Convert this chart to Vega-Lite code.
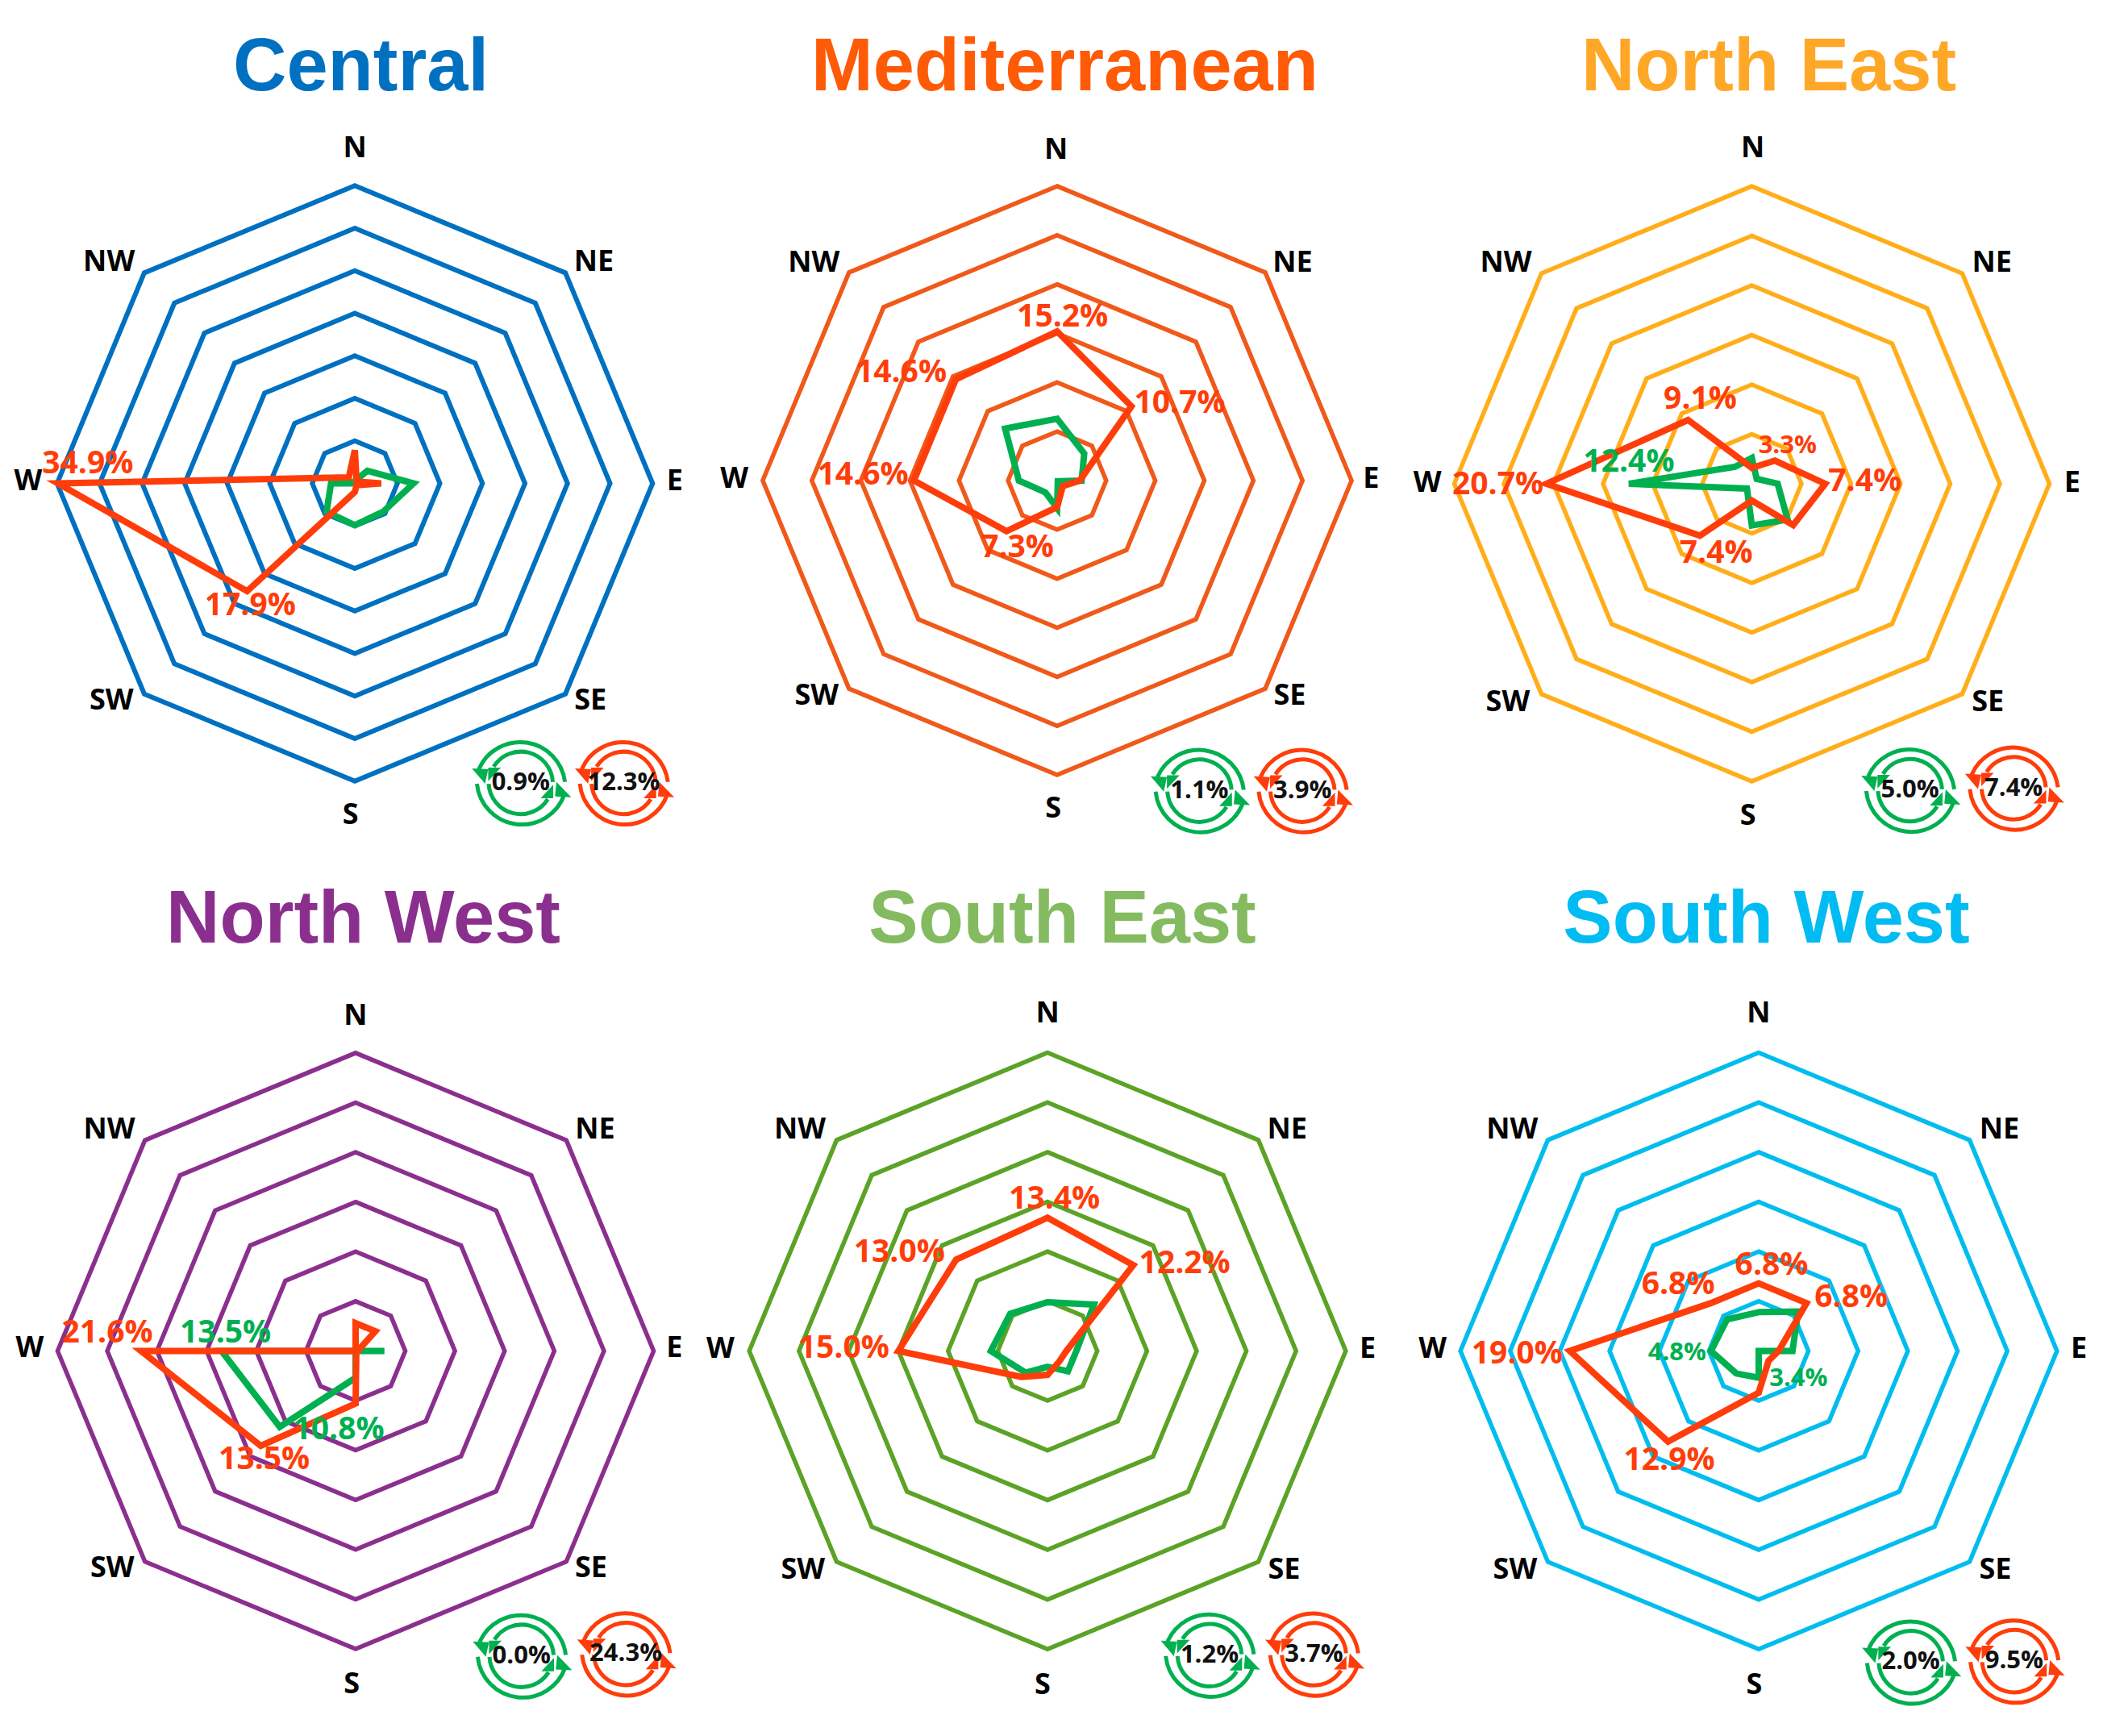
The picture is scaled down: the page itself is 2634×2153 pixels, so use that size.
{
"$schema":"https://vega.github.io/schema/vega-lite/v6.json",
"padding":{"top":38,"left":0,"right":0,"bottom":0},
"spacing":0,
"columns":3,
"background":"white",
"config":{
 "view":{"stroke":null},
 "title":{"font":"Liberation Sans","fontWeight":"bold","fontSize":92,"anchor":"middle","offset":0},
 "style":{
  "cycle":{"shape":"M.98,-.02A1,1,0,0,0,-.93,-.3M-.97,.02A1,1,0,0,0,.97,.25M.71,-.02A.71,.71,0,0,0,-.6,-.36M-.71,.02A.71,.71,0,0,0,.6,.36","filled":false,"size":12544,"strokeWidth":5,"opacity":1},
  "cycleHead":{"shape":"M-1.08,-.32L-.72,-.3L-.79,.02ZM1.12,.32L.76,.3L.79,-.02ZM-.72,-.34L-.44,-.34L-.72,-.04ZM.72,.34L.44,.34L.72,.04Z","filled":true,"size":12544,"strokeWidth":0,"opacity":1},
  "compass":{"font":"Open Sans","fontWeight":"bold","fontSize":36,"color":"#000000","align":"center","baseline":"middle"},
  "pct":{"font":"Open Sans","fontWeight":"bold","align":"center","baseline":"middle"},
  "cycleText":{"font":"Open Sans","fontWeight":"bold","fontSize":31,"color":"#111111","align":"center","baseline":"middle"},
  "radar":{"strokeWidth":8,"interpolate":"linear-closed","strokeJoin":"miter"},
  "ring":{"interpolate":"linear-closed","strokeJoin":"miter"}
 }
},
"datasets":{
 "rings":[
  {"ring":5,"seq":0,"east":0,"north":5},{"ring":5,"seq":1,"east":3.54,"north":3.54},{"ring":5,"seq":2,"east":5,"north":0},{"ring":5,"seq":3,"east":3.54,"north":-3.54},{"ring":5,"seq":4,"east":0,"north":-5},{"ring":5,"seq":5,"east":-3.54,"north":-3.54},{"ring":5,"seq":6,"east":-5,"north":0},{"ring":5,"seq":7,"east":-3.54,"north":3.54},
  {"ring":10,"seq":0,"east":0,"north":10},{"ring":10,"seq":1,"east":7.07,"north":7.07},{"ring":10,"seq":2,"east":10,"north":0},{"ring":10,"seq":3,"east":7.07,"north":-7.07},{"ring":10,"seq":4,"east":0,"north":-10},{"ring":10,"seq":5,"east":-7.07,"north":-7.07},{"ring":10,"seq":6,"east":-10,"north":0},{"ring":10,"seq":7,"east":-7.07,"north":7.07},
  {"ring":15,"seq":0,"east":0,"north":15},{"ring":15,"seq":1,"east":10.61,"north":10.61},{"ring":15,"seq":2,"east":15,"north":0},{"ring":15,"seq":3,"east":10.61,"north":-10.61},{"ring":15,"seq":4,"east":0,"north":-15},{"ring":15,"seq":5,"east":-10.61,"north":-10.61},{"ring":15,"seq":6,"east":-15,"north":0},{"ring":15,"seq":7,"east":-10.61,"north":10.61},
  {"ring":20,"seq":0,"east":0,"north":20},{"ring":20,"seq":1,"east":14.14,"north":14.14},{"ring":20,"seq":2,"east":20,"north":0},{"ring":20,"seq":3,"east":14.14,"north":-14.14},{"ring":20,"seq":4,"east":0,"north":-20},{"ring":20,"seq":5,"east":-14.14,"north":-14.14},{"ring":20,"seq":6,"east":-20,"north":0},{"ring":20,"seq":7,"east":-14.14,"north":14.14},
  {"ring":25,"seq":0,"east":0,"north":25},{"ring":25,"seq":1,"east":17.68,"north":17.68},{"ring":25,"seq":2,"east":25,"north":0},{"ring":25,"seq":3,"east":17.68,"north":-17.68},{"ring":25,"seq":4,"east":0,"north":-25},{"ring":25,"seq":5,"east":-17.68,"north":-17.68},{"ring":25,"seq":6,"east":-25,"north":0},{"ring":25,"seq":7,"east":-17.68,"north":17.68},
  {"ring":30,"seq":0,"east":0,"north":30},{"ring":30,"seq":1,"east":21.21,"north":21.21},{"ring":30,"seq":2,"east":30,"north":0},{"ring":30,"seq":3,"east":21.21,"north":-21.21},{"ring":30,"seq":4,"east":0,"north":-30},{"ring":30,"seq":5,"east":-21.21,"north":-21.21},{"ring":30,"seq":6,"east":-30,"north":0},{"ring":30,"seq":7,"east":-21.21,"north":21.21},
  {"ring":35,"seq":0,"east":0,"north":35},{"ring":35,"seq":1,"east":24.75,"north":24.75},{"ring":35,"seq":2,"east":35,"north":0},{"ring":35,"seq":3,"east":24.75,"north":-24.75},{"ring":35,"seq":4,"east":0,"north":-35},{"ring":35,"seq":5,"east":-24.75,"north":-24.75},{"ring":35,"seq":6,"east":-35,"north":0},{"ring":35,"seq":7,"east":-24.75,"north":24.75}
 ],
 "series":[
  {"panel":"Central","series":"green","seq":0,"dir":"N","value":0.3,"east":0,"north":0.3},{"panel":"Central","series":"green","seq":1,"dir":"NE","value":2.1,"east":1.48,"north":1.48},{"panel":"Central","series":"green","seq":2,"dir":"E","value":6.9,"east":6.9,"north":0},{"panel":"Central","series":"green","seq":3,"dir":"SE","value":4.7,"east":3.32,"north":-3.32},{"panel":"Central","series":"green","seq":4,"dir":"S","value":4.9,"east":0,"north":-4.9},{"panel":"Central","series":"green","seq":5,"dir":"SW","value":4.7,"east":-3.32,"north":-3.32},{"panel":"Central","series":"green","seq":6,"dir":"W","value":2.8,"east":-2.8,"north":0},{"panel":"Central","series":"green","seq":7,"dir":"NW","value":0,"east":0,"north":0},
  {"panel":"Central","series":"red","seq":0,"dir":"N","value":3.9,"east":0,"north":3.9},{"panel":"Central","series":"red","seq":1,"dir":"NE","value":0.3,"east":0.21,"north":0.21},{"panel":"Central","series":"red","seq":2,"dir":"E","value":3.1,"east":3.1,"north":0},{"panel":"Central","series":"red","seq":3,"dir":"SE","value":0.3,"east":0.21,"north":-0.21},{"panel":"Central","series":"red","seq":4,"dir":"S","value":1.0,"east":0,"north":-1.0},{"panel":"Central","series":"red","seq":5,"dir":"SW","value":17.9,"east":-12.66,"north":-12.66},{"panel":"Central","series":"red","seq":6,"dir":"W","value":34.9,"east":-34.9,"north":0},{"panel":"Central","series":"red","seq":7,"dir":"NW","value":1.0,"east":-0.71,"north":0.71},
  {"panel":"Mediterranean","series":"green","seq":0,"dir":"N","value":6.3,"east":0,"north":6.3},{"panel":"Mediterranean","series":"green","seq":1,"dir":"NE","value":3.9,"east":2.76,"north":2.76},{"panel":"Mediterranean","series":"green","seq":2,"dir":"E","value":2.5,"east":2.5,"north":0},{"panel":"Mediterranean","series":"green","seq":3,"dir":"SE","value":0.1,"east":0.07,"north":-0.07},{"panel":"Mediterranean","series":"green","seq":4,"dir":"S","value":2.8,"east":0,"north":-2.8},{"panel":"Mediterranean","series":"green","seq":5,"dir":"SW","value":1.7,"east":-1.2,"north":-1.2},{"panel":"Mediterranean","series":"green","seq":6,"dir":"W","value":3.9,"east":-3.9,"north":0},{"panel":"Mediterranean","series":"green","seq":7,"dir":"NW","value":7.5,"east":-5.3,"north":5.3},
  {"panel":"Mediterranean","series":"red","seq":0,"dir":"N","value":15.2,"east":0,"north":15.2},{"panel":"Mediterranean","series":"red","seq":1,"dir":"NE","value":10.7,"east":7.57,"north":7.57},{"panel":"Mediterranean","series":"red","seq":2,"dir":"E","value":2.3,"east":2.3,"north":0},{"panel":"Mediterranean","series":"red","seq":3,"dir":"SE","value":0.8,"east":0.57,"north":-0.57},{"panel":"Mediterranean","series":"red","seq":4,"dir":"S","value":2.7,"east":0,"north":-2.7},{"panel":"Mediterranean","series":"red","seq":5,"dir":"SW","value":7.3,"east":-5.16,"north":-5.16},{"panel":"Mediterranean","series":"red","seq":6,"dir":"W","value":14.6,"east":-14.6,"north":0},{"panel":"Mediterranean","series":"red","seq":7,"dir":"NW","value":14.6,"east":-10.32,"north":10.32},
  {"panel":"North East","series":"green","seq":0,"dir":"N","value":2.6,"east":0,"north":2.6},{"panel":"North East","series":"green","seq":1,"dir":"NE","value":0.7,"east":0.49,"north":0.49},{"panel":"North East","series":"green","seq":2,"dir":"E","value":2.6,"east":2.6,"north":0},{"panel":"North East","series":"green","seq":3,"dir":"SE","value":5.1,"east":3.61,"north":-3.61},{"panel":"North East","series":"green","seq":4,"dir":"S","value":4.2,"east":0,"north":-4.2},{"panel":"North East","series":"green","seq":5,"dir":"SW","value":0.7,"east":-0.49,"north":-0.49},{"panel":"North East","series":"green","seq":6,"dir":"W","value":12.4,"east":-12.4,"north":0},{"panel":"North East","series":"green","seq":7,"dir":"NW","value":2.4,"east":-1.7,"north":1.7},
  {"panel":"North East","series":"red","seq":0,"dir":"N","value":1.6,"east":0,"north":1.6},{"panel":"North East","series":"red","seq":1,"dir":"NE","value":3.3,"east":2.33,"north":2.33},{"panel":"North East","series":"red","seq":2,"dir":"E","value":7.4,"east":7.4,"north":0},{"panel":"North East","series":"red","seq":3,"dir":"SE","value":5.9,"east":4.17,"north":-4.17},{"panel":"North East","series":"red","seq":4,"dir":"S","value":1.7,"east":0,"north":-1.7},{"panel":"North East","series":"red","seq":5,"dir":"SW","value":7.4,"east":-5.23,"north":-5.23},{"panel":"North East","series":"red","seq":6,"dir":"W","value":20.7,"east":-20.7,"north":0},{"panel":"North East","series":"red","seq":7,"dir":"NW","value":9.1,"east":-6.43,"north":6.43},
  {"panel":"North West","series":"green","seq":0,"dir":"N","value":0,"east":0,"north":0},{"panel":"North West","series":"green","seq":1,"dir":"NE","value":0,"east":0,"north":0},{"panel":"North West","series":"green","seq":2,"dir":"E","value":2.9,"east":2.9,"north":0},{"panel":"North West","series":"green","seq":3,"dir":"SE","value":0,"east":0,"north":0},{"panel":"North West","series":"green","seq":4,"dir":"S","value":2.7,"east":0,"north":-2.7},{"panel":"North West","series":"green","seq":5,"dir":"SW","value":10.8,"east":-7.64,"north":-7.64},{"panel":"North West","series":"green","seq":6,"dir":"W","value":13.5,"east":-13.5,"north":0},{"panel":"North West","series":"green","seq":7,"dir":"NW","value":0,"east":0,"north":0},
  {"panel":"North West","series":"red","seq":0,"dir":"N","value":2.8,"east":0,"north":2.8},{"panel":"North West","series":"red","seq":1,"dir":"NE","value":2.8,"east":1.98,"north":1.98},{"panel":"North West","series":"red","seq":2,"dir":"E","value":0.2,"east":0.2,"north":0},{"panel":"North West","series":"red","seq":3,"dir":"SE","value":0.1,"east":0.07,"north":-0.07},{"panel":"North West","series":"red","seq":4,"dir":"S","value":5.3,"east":0,"north":-5.3},{"panel":"North West","series":"red","seq":5,"dir":"SW","value":13.5,"east":-9.55,"north":-9.55},{"panel":"North West","series":"red","seq":6,"dir":"W","value":21.6,"east":-21.6,"north":0},{"panel":"North West","series":"red","seq":7,"dir":"NW","value":0,"east":0,"north":0},
  {"panel":"South East","series":"green","seq":0,"dir":"N","value":4.9,"east":0,"north":4.9},{"panel":"South East","series":"green","seq":1,"dir":"NE","value":6.6,"east":4.67,"north":4.67},{"panel":"South East","series":"green","seq":2,"dir":"E","value":2.9,"east":2.9,"north":0},{"panel":"South East","series":"green","seq":3,"dir":"SE","value":2.9,"east":2.05,"north":-2.05},{"panel":"South East","series":"green","seq":4,"dir":"S","value":1.6,"east":0,"north":-1.6},{"panel":"South East","series":"green","seq":5,"dir":"SW","value":3.1,"east":-2.19,"north":-2.19},{"panel":"South East","series":"green","seq":6,"dir":"W","value":5.7,"east":-5.7,"north":0},{"panel":"South East","series":"green","seq":7,"dir":"NW","value":5.3,"east":-3.75,"north":3.75},
  {"panel":"South East","series":"red","seq":0,"dir":"N","value":13.4,"east":0,"north":13.4},{"panel":"South East","series":"red","seq":1,"dir":"NE","value":12.2,"east":8.63,"north":8.63},{"panel":"South East","series":"red","seq":2,"dir":"E","value":1.9,"east":1.9,"north":0},{"panel":"South East","series":"red","seq":3,"dir":"SE","value":1.6,"east":1.13,"north":-1.13},{"panel":"South East","series":"red","seq":4,"dir":"S","value":2.4,"east":0,"north":-2.4},{"panel":"South East","series":"red","seq":5,"dir":"SW","value":3.7,"east":-2.62,"north":-2.62},{"panel":"South East","series":"red","seq":6,"dir":"W","value":15.0,"east":-15.0,"north":0},{"panel":"South East","series":"red","seq":7,"dir":"NW","value":13.0,"east":-9.19,"north":9.19},
  {"panel":"South West","series":"green","seq":0,"dir":"N","value":3.9,"east":0,"north":3.9},{"panel":"South West","series":"green","seq":1,"dir":"NE","value":5.6,"east":3.96,"north":3.96},{"panel":"South West","series":"green","seq":2,"dir":"E","value":3.4,"east":3.4,"north":0},{"panel":"South West","series":"green","seq":3,"dir":"SE","value":0,"east":0,"north":0},{"panel":"South West","series":"green","seq":4,"dir":"S","value":2.7,"east":0,"north":-2.7},{"panel":"South West","series":"green","seq":5,"dir":"SW","value":3.2,"east":-2.26,"north":-2.26},{"panel":"South West","series":"green","seq":6,"dir":"W","value":4.8,"east":-4.8,"north":0},{"panel":"South West","series":"green","seq":7,"dir":"NW","value":4.5,"east":-3.18,"north":3.18},
  {"panel":"South West","series":"red","seq":0,"dir":"N","value":6.8,"east":0,"north":6.8},{"panel":"South West","series":"red","seq":1,"dir":"NE","value":6.8,"east":4.81,"north":4.81},{"panel":"South West","series":"red","seq":2,"dir":"E","value":2.0,"east":2.0,"north":0},{"panel":"South West","series":"red","seq":3,"dir":"SE","value":1.4,"east":0.99,"north":-0.99},{"panel":"South West","series":"red","seq":4,"dir":"S","value":4.2,"east":0,"north":-4.2},{"panel":"South West","series":"red","seq":5,"dir":"SW","value":12.9,"east":-9.12,"north":-9.12},{"panel":"South West","series":"red","seq":6,"dir":"W","value":19.0,"east":-19.0,"north":0},{"panel":"South West","series":"red","seq":7,"dir":"NW","value":6.8,"east":-4.81,"north":4.81}
 ],
 "compass":[
  {"panel":"Central","label":"N","east":0,"north":39.4},{"panel":"Central","label":"NE","east":28.1,"north":26.0},{"panel":"Central","label":"E","east":37.6,"north":0.2},{"panel":"Central","label":"SE","east":27.7,"north":-25.5},{"panel":"Central","label":"S","east":-0.5,"north":-39.0},{"panel":"Central","label":"SW","east":-28.6,"north":-25.5},{"panel":"Central","label":"W","east":-38.4,"north":0.2},{"panel":"Central","label":"NW","east":-28.9,"north":26.0},
  {"panel":"Mediterranean","label":"N","east":-0.1,"north":33.7},{"panel":"Mediterranean","label":"NE","east":24.0,"north":22.2},{"panel":"Mediterranean","label":"E","east":32.0,"north":0.2},{"panel":"Mediterranean","label":"SE","east":23.7,"north":-21.9},{"panel":"Mediterranean","label":"S","east":-0.4,"north":-33.4},{"panel":"Mediterranean","label":"SW","east":-24.5,"north":-21.9},{"panel":"Mediterranean","label":"W","east":-32.9,"north":0.2},{"panel":"Mediterranean","label":"NW","east":-24.8,"north":22.2},
  {"panel":"North East","label":"N","east":0.1,"north":33.8},{"panel":"North East","label":"NE","east":24.2,"north":22.3},{"panel":"North East","label":"E","east":32.3,"north":0.1},{"panel":"North East","label":"SE","east":23.8,"north":-22.0},{"panel":"North East","label":"S","east":-0.4,"north":-33.5},{"panel":"North East","label":"SW","east":-24.6,"north":-22.0},{"panel":"North East","label":"W","east":-32.7,"north":0.1},{"panel":"North East","label":"NW","east":-24.8,"north":22.3},
  {"panel":"North West","label":"N","east":0,"north":33.7},{"panel":"North West","label":"NE","east":24.1,"north":22.3},{"panel":"North West","label":"E","east":32.1,"north":0.3},{"panel":"North West","label":"SE","east":23.7,"north":-21.9},{"panel":"North West","label":"S","east":-0.4,"north":-33.6},{"panel":"North West","label":"SW","east":-24.5,"north":-21.9},{"panel":"North West","label":"W","east":-32.8,"north":0.3},{"panel":"North West","label":"NW","east":-24.8,"north":22.3},
  {"panel":"South East","label":"N","east":0,"north":33.9},{"panel":"South East","label":"NE","east":24.1,"north":22.3},{"panel":"South East","label":"E","east":32.2,"north":0.2},{"panel":"South East","label":"SE","east":23.8,"north":-22.0},{"panel":"South East","label":"S","east":-0.5,"north":-33.6},{"panel":"South East","label":"SW","east":-24.6,"north":-22.0},{"panel":"South East","label":"W","east":-32.9,"north":0.2},{"panel":"South East","label":"NW","east":-24.9,"north":22.3},
  {"panel":"South West","label":"N","east":0,"north":33.9},{"panel":"South West","label":"NE","east":24.2,"north":22.3},{"panel":"South West","label":"E","east":32.2,"north":0.2},{"panel":"South West","label":"SE","east":23.8,"north":-22.0},{"panel":"South West","label":"S","east":-0.45,"north":-33.6},{"panel":"South West","label":"SW","east":-24.5,"north":-22.0},{"panel":"South West","label":"W","east":-32.8,"north":0.2},{"panel":"South West","label":"NW","east":-24.8,"north":22.3}
 ],
 "labels":[
  {"panel":"Central","series":"red","label":"34.9%","east":-31.4,"north":2.3},{"panel":"Central","series":"red","label":"17.9%","east":-12.3,"north":-14.4},
  {"panel":"Mediterranean","series":"red","label":"15.2%","east":0.55,"north":16.7},{"panel":"Mediterranean","series":"red","label":"14.6%","east":-15.9,"north":11.05},{"panel":"Mediterranean","series":"red","label":"10.7%","east":12.5,"north":7.9},{"panel":"Mediterranean","series":"red","label":"14.6%","east":-19.8,"north":0.6},{"panel":"Mediterranean","series":"red","label":"7.3%","east":-4.06,"north":-6.8},
  {"panel":"North East","series":"red","label":"9.1%","east":-5.2,"north":8.5},{"panel":"North East","series":"red","label":"3.3%","east":3.6,"north":3.85},{"panel":"North East","series":"red","label":"7.4%","east":11.4,"north":0.2},{"panel":"North East","series":"red","label":"20.7%","east":-25.6,"north":-0.05},{"panel":"North East","series":"red","label":"7.4%","east":-3.6,"north":-7.0},{"panel":"North East","series":"green","label":"12.4%","east":-12.4,"north":2.2},
  {"panel":"North West","series":"red","label":"21.6%","east":-25,"north":1.8},{"panel":"North West","series":"green","label":"13.5%","east":-13.1,"north":1.8},{"panel":"North West","series":"green","label":"10.8%","east":-1.7,"north":-7.9},{"panel":"North West","series":"red","label":"13.5%","east":-9.2,"north":-10.9},
  {"panel":"South East","series":"red","label":"13.4%","east":0.7,"north":15.3},{"panel":"South East","series":"red","label":"13.0%","east":-14.9,"north":9.9},{"panel":"South East","series":"red","label":"12.2%","east":13.8,"north":8.8},{"panel":"South East","series":"red","label":"15.0%","east":-20.5,"north":0.3},
  {"panel":"South West","series":"red","label":"6.8%","east":1.3,"north":8.6},{"panel":"South West","series":"red","label":"6.8%","east":-8.1,"north":6.7},{"panel":"South West","series":"red","label":"6.8%","east":9.3,"north":5.4},{"panel":"South West","series":"red","label":"19.0%","east":-24.3,"north":-0.3},{"panel":"South West","series":"red","label":"12.9%","east":-9,"north":-11},{"panel":"South West","series":"green","label":"4.8%","east":-8.2,"north":-0.2},{"panel":"South West","series":"green","label":"3.4%","east":4,"north":-2.8}
 ],
 "cycles":[
  {"panel":"Central","series":"green","label":"0.9%","east":19.5,"north":-35.2},{"panel":"Central","series":"red","label":"12.3%","east":31.6,"north":-35.2},
  {"panel":"Mediterranean","series":"green","label":"1.1%","east":14.5,"north":-31.6},{"panel":"Mediterranean","series":"red","label":"3.9%","east":25.0,"north":-31.6},
  {"panel":"North East","series":"green","label":"5.0%","east":15.95,"north":-30.9},{"panel":"North East","series":"red","label":"7.4%","east":26.4,"north":-30.7},
  {"panel":"North West","series":"green","label":"0.0%","east":16.7,"north":-30.7},{"panel":"North West","series":"red","label":"24.3%","east":27.2,"north":-30.5},
  {"panel":"South East","series":"green","label":"1.2%","east":16.3,"north":-30.6},{"panel":"South East","series":"red","label":"3.7%","east":26.8,"north":-30.5},
  {"panel":"South West","series":"green","label":"2.0%","east":15.3,"north":-31.3},{"panel":"South West","series":"red","label":"9.5%","east":25.7,"north":-31.2}
 ]
},
"concat":[
 {"width":875,"height":960,"title":{"text":"Central","color":"#0070C0","dx":10},
  "encoding":{"x":{"field":"east","type":"quantitative","scale":{"domain":[-41.71,41.23]},"axis":null},"y":{"field":"north","type":"quantitative","scale":{"domain":[-46.96,44.03]},"axis":null}},
  "layer":[
   {"data":{"name":"rings"},"mark":{"type":"line","style":"ring","strokeWidth":6},"encoding":{"detail":{"field":"ring"},"order":{"field":"seq"},"color":{"value":"#0070C0"}}},
   {"data":{"name":"series"},"transform":[{"filter":{"field":"panel","equal":"Central"}}],"mark":{"type":"line","style":"radar"},"encoding":{"detail":{"field":"series"},"order":{"field":"seq"},"color":{"field":"series","scale":{"domain":["green","red"],"range":["#00B050","#FF3D0A"]},"legend":null}}},
   {"data":{"name":"compass"},"transform":[{"filter":{"field":"panel","equal":"Central"}}],"mark":{"type":"text","style":"compass"},"encoding":{"text":{"field":"label"}}},
   {"data":{"name":"labels"},"transform":[{"filter":{"field":"panel","equal":"Central"}}],"mark":{"type":"text","style":"pct"},"encoding":{"text":{"field":"label"},"size":{"condition":{"test":"indexof(['3.3%','4.8%','3.4%'],datum.label)>=0","value":31},"value":39},"color":{"field":"series","scale":{"domain":["green","red"],"range":["#00B050","#FF3D1A"]},"legend":null}}},
   {"data":{"name":"cycles"},"transform":[{"filter":{"field":"panel","equal":"Central"}}],"mark":{"type":"point","style":"cycle"},"encoding":{"color":{"field":"series","scale":{"domain":["green","red"],"range":["#00B050","#FF3D0A"]},"legend":null}}},
   {"data":{"name":"cycles"},"transform":[{"filter":{"field":"panel","equal":"Central"}}],"mark":{"type":"point","style":"cycleHead"},"encoding":{"color":{"field":"series","scale":{"domain":["green","red"],"range":["#00B050","#FF3D0A"]},"legend":null}}},
   {"data":{"name":"cycles"},"transform":[{"filter":{"field":"panel","equal":"Central"}}],"mark":{"type":"text","style":"cycleText"},"encoding":{"text":{"field":"label"}}}
  ]},
 {"width":875,"height":960,"title":{"text":"Mediterranean","color":"#FF5A06","dx":6},
  "encoding":{"x":{"field":"east","type":"quantitative","scale":{"domain":[-35.66,36.24]},"axis":null},"y":{"field":"north","type":"quantitative","scale":{"domain":[-41.0,37.88]},"axis":null}},
  "layer":[
   {"data":{"name":"rings"},"transform":[{"filter":"datum.ring<=30"}],"mark":{"type":"line","style":"ring","strokeWidth":5.5},"encoding":{"detail":{"field":"ring"},"order":{"field":"seq"},"color":{"value":"#F0591A"}}},
   {"data":{"name":"series"},"transform":[{"filter":{"field":"panel","equal":"Mediterranean"}}],"mark":{"type":"line","style":"radar"},"encoding":{"detail":{"field":"series"},"order":{"field":"seq"},"color":{"field":"series","scale":{"domain":["green","red"],"range":["#00B050","#FF3D0A"]},"legend":null}}},
   {"data":{"name":"compass"},"transform":[{"filter":{"field":"panel","equal":"Mediterranean"}}],"mark":{"type":"text","style":"compass"},"encoding":{"text":{"field":"label"}}},
   {"data":{"name":"labels"},"transform":[{"filter":{"field":"panel","equal":"Mediterranean"}}],"mark":{"type":"text","style":"pct"},"encoding":{"text":{"field":"label"},"size":{"condition":{"test":"indexof(['3.3%','4.8%','3.4%'],datum.label)>=0","value":31},"value":39},"color":{"field":"series","scale":{"domain":["green","red"],"range":["#00B050","#FF3D1A"]},"legend":null}}},
   {"data":{"name":"cycles"},"transform":[{"filter":{"field":"panel","equal":"Mediterranean"}}],"mark":{"type":"point","style":"cycle"},"encoding":{"color":{"field":"series","scale":{"domain":["green","red"],"range":["#00B050","#FF3D0A"]},"legend":null}}},
   {"data":{"name":"cycles"},"transform":[{"filter":{"field":"panel","equal":"Mediterranean"}}],"mark":{"type":"point","style":"cycleHead"},"encoding":{"color":{"field":"series","scale":{"domain":["green","red"],"range":["#00B050","#FF3D0A"]},"legend":null}}},
   {"data":{"name":"cycles"},"transform":[{"filter":{"field":"panel","equal":"Mediterranean"}}],"mark":{"type":"text","style":"cycleText"},"encoding":{"text":{"field":"label"}}}
  ]},
 {"width":875,"height":960,"title":{"text":"North East","color":"#FFA726","dx":0},
  "encoding":{"x":{"field":"east","type":"quantitative","scale":{"domain":[-33.86,37.28]},"axis":null},"y":{"field":"north","type":"quantitative","scale":{"domain":[-40.25,37.8]},"axis":null}},
  "layer":[
   {"data":{"name":"rings"},"transform":[{"filter":"datum.ring<=30"}],"mark":{"type":"line","style":"ring","strokeWidth":5.5},"encoding":{"detail":{"field":"ring"},"order":{"field":"seq"},"color":{"value":"#FFAE1A"}}},
   {"data":{"name":"series"},"transform":[{"filter":{"field":"panel","equal":"North East"}}],"mark":{"type":"line","style":"radar"},"encoding":{"detail":{"field":"series"},"order":{"field":"seq"},"color":{"field":"series","scale":{"domain":["green","red"],"range":["#00B050","#FF3D0A"]},"legend":null}}},
   {"data":{"name":"compass"},"transform":[{"filter":{"field":"panel","equal":"North East"}}],"mark":{"type":"text","style":"compass"},"encoding":{"text":{"field":"label"}}},
   {"data":{"name":"labels"},"transform":[{"filter":{"field":"panel","equal":"North East"}}],"mark":{"type":"text","style":"pct"},"encoding":{"text":{"field":"label"},"size":{"condition":{"test":"indexof(['3.3%','4.8%','3.4%'],datum.label)>=0","value":31},"value":39},"color":{"field":"series","scale":{"domain":["green","red"],"range":["#00B050","#FF3D1A"]},"legend":null}}},
   {"data":{"name":"cycles"},"transform":[{"filter":{"field":"panel","equal":"North East"}}],"mark":{"type":"point","style":"cycle"},"encoding":{"color":{"field":"series","scale":{"domain":["green","red"],"range":["#00B050","#FF3D0A"]},"legend":null}}},
   {"data":{"name":"cycles"},"transform":[{"filter":{"field":"panel","equal":"North East"}}],"mark":{"type":"point","style":"cycleHead"},"encoding":{"color":{"field":"series","scale":{"domain":["green","red"],"range":["#00B050","#FF3D0A"]},"legend":null}}},
   {"data":{"name":"cycles"},"transform":[{"filter":{"field":"panel","equal":"North East"}}],"mark":{"type":"text","style":"cycleText"},"encoding":{"text":{"field":"label"}}}
  ]},
 {"width":875,"height":925,"title":{"text":"North West","color":"#8B2F8F","dx":13},
  "encoding":{"x":{"field":"east","type":"quantitative","scale":{"domain":[-35.8,35.23]},"axis":null},"y":{"field":"north","type":"quantitative","scale":{"domain":[-35.84,39.24]},"axis":null}},
  "layer":[
   {"data":{"name":"rings"},"transform":[{"filter":"datum.ring<=30"}],"mark":{"type":"line","style":"ring","strokeWidth":5.5},"encoding":{"detail":{"field":"ring"},"order":{"field":"seq"},"color":{"value":"#8B2F8F"}}},
   {"data":{"name":"series"},"transform":[{"filter":{"field":"panel","equal":"North West"}}],"mark":{"type":"line","style":"radar"},"encoding":{"detail":{"field":"series"},"order":{"field":"seq"},"color":{"field":"series","scale":{"domain":["green","red"],"range":["#00B050","#FF3D0A"]},"legend":null}}},
   {"data":{"name":"compass"},"transform":[{"filter":{"field":"panel","equal":"North West"}}],"mark":{"type":"text","style":"compass"},"encoding":{"text":{"field":"label"}}},
   {"data":{"name":"labels"},"transform":[{"filter":{"field":"panel","equal":"North West"}}],"mark":{"type":"text","style":"pct"},"encoding":{"text":{"field":"label"},"size":{"condition":{"test":"indexof(['3.3%','4.8%','3.4%'],datum.label)>=0","value":31},"value":39},"color":{"field":"series","scale":{"domain":["green","red"],"range":["#00B050","#FF3D1A"]},"legend":null}}},
   {"data":{"name":"cycles"},"transform":[{"filter":{"field":"panel","equal":"North West"}}],"mark":{"type":"point","style":"cycle"},"encoding":{"color":{"field":"series","scale":{"domain":["green","red"],"range":["#00B050","#FF3D0A"]},"legend":null}}},
   {"data":{"name":"cycles"},"transform":[{"filter":{"field":"panel","equal":"North West"}}],"mark":{"type":"point","style":"cycleHead"},"encoding":{"color":{"field":"series","scale":{"domain":["green","red"],"range":["#00B050","#FF3D0A"]},"legend":null}}},
   {"data":{"name":"cycles"},"transform":[{"filter":{"field":"panel","equal":"North West"}}],"mark":{"type":"text","style":"cycleText"},"encoding":{"text":{"field":"label"}}}
  ]},
 {"width":875,"height":925,"title":{"text":"South East","color":"#84BB60","dx":3},
  "encoding":{"x":{"field":"east","type":"quantitative","scale":{"domain":[-34.23,36.74]},"axis":null},"y":{"field":"north","type":"quantitative","scale":{"domain":[-35.81,39.21]},"axis":null}},
  "layer":[
   {"data":{"name":"rings"},"transform":[{"filter":"datum.ring<=30"}],"mark":{"type":"line","style":"ring","strokeWidth":5.5},"encoding":{"detail":{"field":"ring"},"order":{"field":"seq"},"color":{"value":"#5BA326"}}},
   {"data":{"name":"series"},"transform":[{"filter":{"field":"panel","equal":"South East"}}],"mark":{"type":"line","style":"radar"},"encoding":{"detail":{"field":"series"},"order":{"field":"seq"},"color":{"field":"series","scale":{"domain":["green","red"],"range":["#00B050","#FF3D0A"]},"legend":null}}},
   {"data":{"name":"compass"},"transform":[{"filter":{"field":"panel","equal":"South East"}}],"mark":{"type":"text","style":"compass"},"encoding":{"text":{"field":"label"}}},
   {"data":{"name":"labels"},"transform":[{"filter":{"field":"panel","equal":"South East"}}],"mark":{"type":"text","style":"pct"},"encoding":{"text":{"field":"label"},"size":{"condition":{"test":"indexof(['3.3%','4.8%','3.4%'],datum.label)>=0","value":31},"value":39},"color":{"field":"series","scale":{"domain":["green","red"],"range":["#00B050","#FF3D1A"]},"legend":null}}},
   {"data":{"name":"cycles"},"transform":[{"filter":{"field":"panel","equal":"South East"}}],"mark":{"type":"point","style":"cycle"},"encoding":{"color":{"field":"series","scale":{"domain":["green","red"],"range":["#00B050","#FF3D0A"]},"legend":null}}},
   {"data":{"name":"cycles"},"transform":[{"filter":{"field":"panel","equal":"South East"}}],"mark":{"type":"point","style":"cycleHead"},"encoding":{"color":{"field":"series","scale":{"domain":["green","red"],"range":["#00B050","#FF3D0A"]},"legend":null}}},
   {"data":{"name":"cycles"},"transform":[{"filter":{"field":"panel","equal":"South East"}}],"mark":{"type":"text","style":"cycleText"},"encoding":{"text":{"field":"label"}}}
  ]},
 {"width":875,"height":925,"title":{"text":"South West","color":"#00BCF2","dx":-3},
  "encoding":{"x":{"field":"east","type":"quantitative","scale":{"domain":[-34.47,36.5]},"axis":null},"y":{"field":"north","type":"quantitative","scale":{"domain":[-35.81,39.21]},"axis":null}},
  "layer":[
   {"data":{"name":"rings"},"transform":[{"filter":"datum.ring<=30"}],"mark":{"type":"line","style":"ring","strokeWidth":5.5},"encoding":{"detail":{"field":"ring"},"order":{"field":"seq"},"color":{"value":"#00BDEE"}}},
   {"data":{"name":"series"},"transform":[{"filter":{"field":"panel","equal":"South West"}}],"mark":{"type":"line","style":"radar"},"encoding":{"detail":{"field":"series"},"order":{"field":"seq"},"color":{"field":"series","scale":{"domain":["green","red"],"range":["#00B050","#FF3D0A"]},"legend":null}}},
   {"data":{"name":"compass"},"transform":[{"filter":{"field":"panel","equal":"South West"}}],"mark":{"type":"text","style":"compass"},"encoding":{"text":{"field":"label"}}},
   {"data":{"name":"labels"},"transform":[{"filter":{"field":"panel","equal":"South West"}}],"mark":{"type":"text","style":"pct"},"encoding":{"text":{"field":"label"},"size":{"condition":{"test":"indexof(['3.3%','4.8%','3.4%'],datum.label)>=0","value":31},"value":39},"color":{"field":"series","scale":{"domain":["green","red"],"range":["#00B050","#FF3D1A"]},"legend":null}}},
   {"data":{"name":"cycles"},"transform":[{"filter":{"field":"panel","equal":"South West"}}],"mark":{"type":"point","style":"cycle"},"encoding":{"color":{"field":"series","scale":{"domain":["green","red"],"range":["#00B050","#FF3D0A"]},"legend":null}}},
   {"data":{"name":"cycles"},"transform":[{"filter":{"field":"panel","equal":"South West"}}],"mark":{"type":"point","style":"cycleHead"},"encoding":{"color":{"field":"series","scale":{"domain":["green","red"],"range":["#00B050","#FF3D0A"]},"legend":null}}},
   {"data":{"name":"cycles"},"transform":[{"filter":{"field":"panel","equal":"South West"}}],"mark":{"type":"text","style":"cycleText"},"encoding":{"text":{"field":"label"}}}
  ]}
]
}
